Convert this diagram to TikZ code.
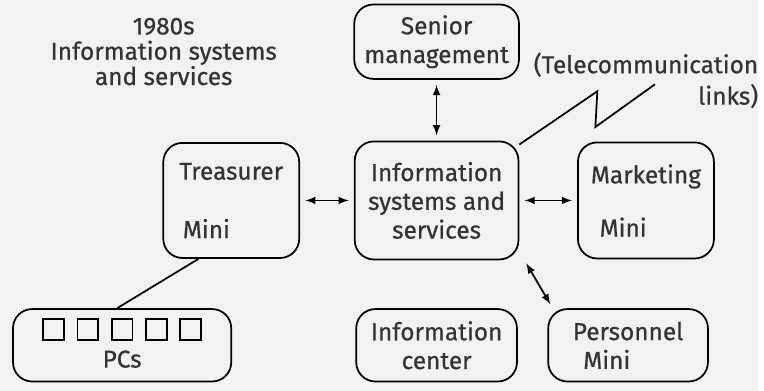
\documentclass[tikz,border=0pt]{standalone}
\usepackage{fontspec}
\setmainfont{Fira Sans}[FakeBold=0.6]
\usetikzlibrary{positioning}

\begin{document}
\begin{tikzpicture}[x=0.02cm,y=-0.02cm,node distance=3cm,on grid,>=latex,
	shorten >=3pt,shorten <=3pt,
	txt/.style={font=\fontsize{14}{16.5}\selectfont,text=black!80},
	box/.style={txt,draw,line width=1pt,rounded corners=11pt,align=center,inner sep=0pt}]
	\fill[black!5] (0,0) rectangle (764,394);

	\node[box,minimum width=3.3cm,minimum height=2.38cm] (iss) at (440,202) {Information\\systems and\\services};
	\node[box,minimum width=3.32cm,minimum height=1.5cm] (senior) [above=3.2cm of iss] {Senior\\management};
	\node[box,align=left,minimum width=2.74cm,minimum height=2.32cm] (treas) [left=4.14cm of iss] {Treasurer\\[17pt]\hspace{2pt}Mini};
	\node[box,align=left,minimum width=2.74cm,minimum height=2.34cm] (mkt) [right=4.22cm of iss] {Marketing\\[14pt]\hspace{5pt}Mini};
	\node[box,minimum width=3.24cm,minimum height=1.46cm] (infoc) [below=2.92cm of iss] {Information\\center};
	\node[box,align=left,minimum width=3.22cm,minimum height=1.46cm] (pers) [right=3.86cm of infoc] {Personnel\\\hspace{6pt}Mini};
	\node[box,minimum width=4.4cm,minimum height=1.46cm,
		label={[txt,yshift=-0.28cm]center:PCs}] (pcs) [below left=2.92cm and 2.2cm of treas] {};
	\foreach \i [count=\n] in {-2,...,2}
		\node[draw,line width=1pt,minimum size=0.42cm,inner sep=0pt] (pc_\n) at ([shift={(\i*34.5,-16)}]pcs.center) {};

	\node[txt,align=center,font=\fontsize{14}{14.5}\selectfont] (title) at (165,52) {1980s\\Information systems\\and services};
	\node[txt,align=right,font=\fontsize{14}{18}\selectfont] (tele) at (651,81) {(Telecommunication\\links)\hspace{7pt}};

	% telecommunication zigzag
	\coordinate (zz_1) at (602,92);
	\coordinate (zz_2) at (600,128);
	\coordinate (zz_3) at (660,85);
	\draw[line width=1pt,shorten <=0pt,shorten >=0pt] ([shift={(0,4)}]iss.north east) -- (zz_1) -- (zz_2) -- (zz_3);

	\draw[<->,line width=1pt] (senior) -- (iss);
	\draw[<->,line width=1pt] (treas) -- (iss);
	\draw[<->,line width=1pt] (iss) -- (mkt);
	\draw[<->,line width=1pt,shorten <=0pt,shorten >=0pt] ([shift={(7,3)}]iss.south east) -- ([shift={(3,-4)}]pers.north west);
	\draw[line width=1pt,shorten <=0pt,shorten >=0pt] ([xshift=-0.66cm]treas.south) -- ([xshift=-0.1cm]pcs.north);
\end{tikzpicture}
\end{document}
